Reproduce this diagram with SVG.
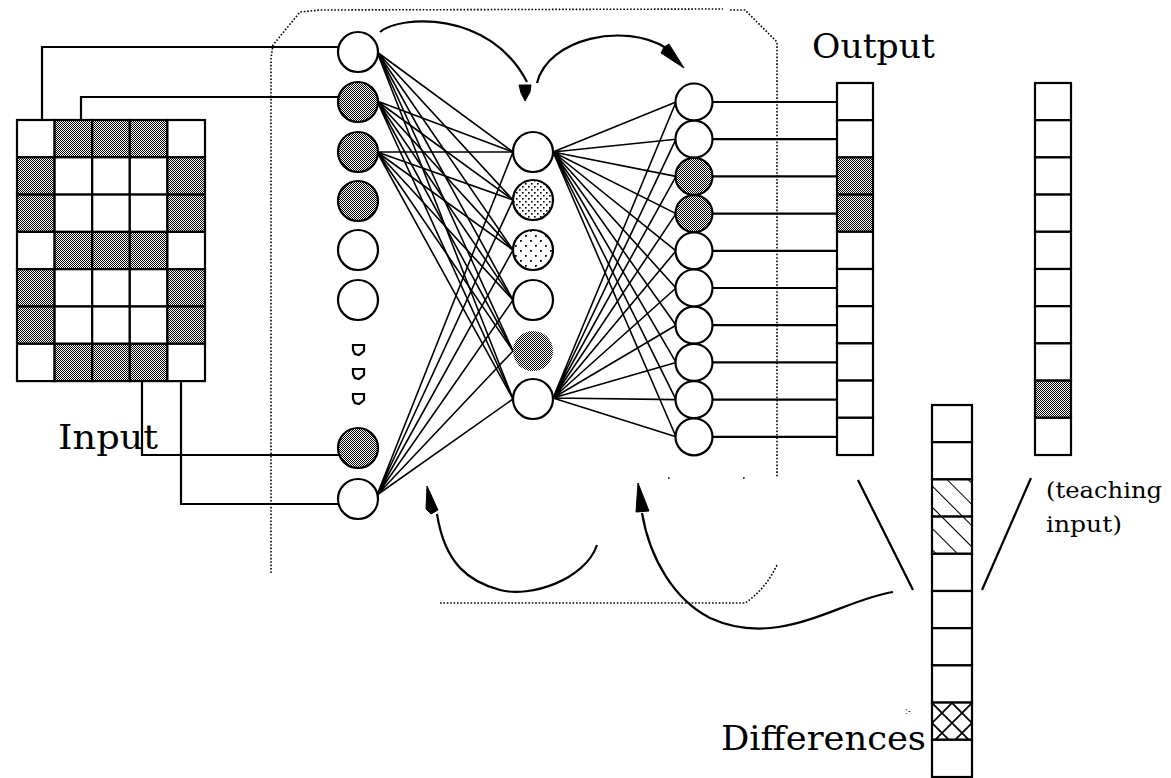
<svg xmlns="http://www.w3.org/2000/svg" width="1171" height="778" viewBox="0 0 1171 778">
  <style>
    .ln { fill: none; stroke: #000; stroke-width: 1.6; }
    .wire { fill: none; stroke: #000; stroke-width: 2.2; }
    .dot { fill: none; stroke: #000; stroke-width: 1.6; stroke-dasharray: 1.6 1.8; }
    .arc { fill: none; stroke: #000; stroke-width: 2.2; }
    .head { fill: #000; stroke: #000; stroke-width: 1; }
    .cell { fill: #fff; stroke: #000; stroke-width: 2.2; }
    .cg { fill: url(#gray); stroke: #000; stroke-width: 2.2; }
    .node { fill: #fff; stroke: #000; stroke-width: 2.2; }
    .ng { fill: url(#gray); stroke: #000; stroke-width: 2.2; }
    .lbl { font-family: "DejaVu Serif", "Liberation Serif", serif; font-size: 33px; fill: #000; }
    .sm { font-family: "DejaVu Serif", "Liberation Serif", serif; font-size: 22px; fill: #000; }
  </style>
  <defs>
    <pattern id="gray" width="2" height="2" patternUnits="userSpaceOnUse">
      <rect width="2" height="2" fill="#fff"/>
      <rect width="1" height="1" fill="#000"/>
      <rect x="1" y="1" width="1" height="1" fill="#000"/>
    </pattern>
    <pattern id="dotsDense" width="6" height="6" patternUnits="userSpaceOnUse">
      <rect width="6" height="6" fill="#fff"/>
      <rect width="1.6" height="1.6" fill="#000"/>
      <rect x="3" y="3" width="1.6" height="1.6" fill="#000"/>
    </pattern>
    <pattern id="dotsSparse" width="10" height="10" patternUnits="userSpaceOnUse">
      <rect width="10" height="10" fill="#fff"/>
      <rect width="1.8" height="1.8" fill="#000"/>
      <rect x="5" y="5" width="1.8" height="1.8" fill="#000"/>
    </pattern>
    <pattern id="hatch" width="15" height="15" patternUnits="userSpaceOnUse" patternTransform="rotate(-45)">
      <rect width="15" height="15" fill="#fff"/>
      <line x1="0" y1="0" x2="0" y2="15" stroke="#000" stroke-width="2"/>
    </pattern>
    <pattern id="cross" width="20" height="20" patternUnits="userSpaceOnUse" x="932" y="703">
      <rect width="20" height="20" fill="#fff"/>
      <path d="M0,0 L20,20 M20,0 L0,20" stroke="#000" stroke-width="1.8"/>
    </pattern>
  </defs>

  <rect width="1171" height="778" fill="#fff"/>

  <!-- dotted frame around the network -->
  <g id="frame">
    <path class="dot" d="M271,573 L271,58 L273,45 L300,12 L320,10 L723,9"/>
    <path class="dot" d="M730,10 L745,10 L777,42 L777,477"/>
    <path class="dot" d="M440,603 L745,603 Q765,590 777,565"/>
    <path class="dot" d="M668,478 h3 M743,478 h3"/>
  </g>

  <!-- input pattern: 5 x 7 grid showing an "8" -->
  <g id="input-grid">
    <rect class="cell" x="17" y="120" width="37.6" height="37.3"/>
    <rect class="cg" x="54.6" y="120" width="37.6" height="37.3"/>
    <rect class="cg" x="92.2" y="120" width="37.6" height="37.3"/>
    <rect class="cg" x="129.8" y="120" width="37.6" height="37.3"/>
    <rect class="cell" x="167.4" y="120" width="37.6" height="37.3"/>

    <rect class="cg" x="17" y="157.3" width="37.6" height="37.3"/>
    <rect class="cell" x="54.6" y="157.3" width="37.6" height="37.3"/>
    <rect class="cell" x="92.2" y="157.3" width="37.6" height="37.3"/>
    <rect class="cell" x="129.8" y="157.3" width="37.6" height="37.3"/>
    <rect class="cg" x="167.4" y="157.3" width="37.6" height="37.3"/>

    <rect class="cg" x="17" y="194.6" width="37.6" height="37.3"/>
    <rect class="cell" x="54.6" y="194.6" width="37.6" height="37.3"/>
    <rect class="cell" x="92.2" y="194.6" width="37.6" height="37.3"/>
    <rect class="cell" x="129.8" y="194.6" width="37.6" height="37.3"/>
    <rect class="cg" x="167.4" y="194.6" width="37.6" height="37.3"/>

    <rect class="cell" x="17" y="231.9" width="37.6" height="37.3"/>
    <rect class="cg" x="54.6" y="231.9" width="37.6" height="37.3"/>
    <rect class="cg" x="92.2" y="231.9" width="37.6" height="37.3"/>
    <rect class="cg" x="129.8" y="231.9" width="37.6" height="37.3"/>
    <rect class="cell" x="167.4" y="231.9" width="37.6" height="37.3"/>

    <rect class="cg" x="17" y="269.2" width="37.6" height="37.3"/>
    <rect class="cell" x="54.6" y="269.2" width="37.6" height="37.3"/>
    <rect class="cell" x="92.2" y="269.2" width="37.6" height="37.3"/>
    <rect class="cell" x="129.8" y="269.2" width="37.6" height="37.3"/>
    <rect class="cg" x="167.4" y="269.2" width="37.6" height="37.3"/>

    <rect class="cg" x="17" y="306.5" width="37.6" height="37.3"/>
    <rect class="cell" x="54.6" y="306.5" width="37.6" height="37.3"/>
    <rect class="cell" x="92.2" y="306.5" width="37.6" height="37.3"/>
    <rect class="cell" x="129.8" y="306.5" width="37.6" height="37.3"/>
    <rect class="cg" x="167.4" y="306.5" width="37.6" height="37.3"/>

    <rect class="cell" x="17" y="343.8" width="37.6" height="37.3"/>
    <rect class="cg" x="54.6" y="343.8" width="37.6" height="37.3"/>
    <rect class="cg" x="92.2" y="343.8" width="37.6" height="37.3"/>
    <rect class="cg" x="129.8" y="343.8" width="37.6" height="37.3"/>
    <rect class="cell" x="167.4" y="343.8" width="37.6" height="37.3"/>
  </g>

  <g id="connectors">
    <!-- grid cells wired to input units -->
    <path class="wire" d="M42,120 V47 H339"/>
    <path class="wire" d="M81,120 V97 H339"/>
    <path class="wire" d="M142,381 V455 H339"/>
    <path class="wire" d="M181,381 V504 H339"/>

    <!-- input layer to hidden layer -->
    <path class="ln" d="M377,52 L513,152 M377,52 L513,200 M377,52 L513,250 M377,52 L513,300 M377,52 L513,351 M377,52 L513,399"/>
    <path class="ln" d="M377,101 L513,152 M377,101 L513,200 M377,101 L513,250 M377,101 L513,300 M377,101 L513,351 M377,101 L513,399"/>
    <path class="ln" d="M377,152 L513,152 M377,152 L513,200 M377,152 L513,250 M377,152 L513,300 M377,152 L513,351 M377,152 L513,399"/>
    <path class="ln" d="M377,495 L513,152 M377,495 L513,200 M377,495 L513,250 M377,495 L513,300 M377,495 L513,351 M377,495 L513,399"/>

    <!-- hidden layer to output layer -->
    <path class="ln" d="M553,152 L676,102 M553,152 L676,139.2 M553,152 L676,176.4 M553,152 L676,213.6 M553,152 L676,250.8 M553,152 L676,288 M553,152 L676,325.2 M553,152 L676,362.4 M553,152 L676,399.6 M553,152 L676,436.8"/>
    <path class="ln" d="M553,398 L676,102 M553,398 L676,139.2 M553,398 L676,176.4 M553,398 L676,213.6 M553,398 L676,250.8 M553,398 L676,288 M553,398 L676,325.2 M553,398 L676,362.4 M553,398 L676,399.6 M553,398 L676,436.8"/>

    <!-- output units to output vector -->
    <path class="wire" d="M712,102 H837 M712,139.2 H837 M712,176.4 H837 M712,213.6 H837 M712,250.8 H837 M712,288 H837 M712,325.2 H837 M712,362.4 H837 M712,399.6 H837 M712,436.8 H837"/>

    <!-- forward propagation arrows -->
    <path class="arc" d="M380,32 C400,15 490,10 527,82"/>
    <polygon class="head" points="519,85 531,85 530,92 525,101 521,93"/>
    <path class="arc" d="M537,83 C548,38 625,22 666,48"/>
    <polygon class="head" points="684,68 661,53 664,47 669,44"/>

    <!-- back propagation arrows -->
    <path class="arc" d="M597,545 C585,580 530,598 500,590 C470,582 445,565 437,514"/>
    <polygon class="head" points="427,486 438,510 431,514 426,509"/>
    <path class="arc" d="M893,592 C840,600 780,650 710,618 C675,600 650,560 642,513"/>
    <polygon class="head" points="638,483 649,511 636,512"/>

    <!-- difference = output vs teaching input -->
    <path class="arc" d="M858,480 L913,590"/>
    <path class="arc" d="M1031,478 L982,590"/>
  </g>

  <!-- input layer -->
  <g id="input-layer">
    <circle id="in-1" class="node" cx="358" cy="52" r="20"/>
    <circle id="in-2" class="ng" cx="358" cy="102" r="20"/>
    <circle id="in-3" class="ng" cx="358" cy="152" r="20"/>
    <circle id="in-4" class="ng" cx="358" cy="201" r="20"/>
    <circle id="in-5" class="node" cx="358" cy="250" r="20"/>
    <circle id="in-6" class="node" cx="358" cy="300" r="20"/>
    <path id="in-more-1" class="node" stroke-width="1.6" d="M353,345 H364 V351 L359,355 L355,354 L353,350 Z"/>
    <path id="in-more-2" class="node" stroke-width="1.6" d="M353,369 H364 V375 L359,379 L355,378 L353,374 Z"/>
    <path id="in-more-3" class="node" stroke-width="1.6" d="M353,394 H364 V400 L359,404 L355,403 L353,399 Z"/>
    <circle id="in-7" class="ng" cx="358" cy="448" r="20"/>
    <circle id="in-8" class="node" cx="358" cy="499" r="20"/>
  </g>

  <!-- hidden layer -->
  <g id="hidden-layer">
    <circle id="hid-1" class="node" cx="533" cy="152" r="20"/>
    <circle id="hid-2" cx="533" cy="200" r="20" fill="url(#dotsDense)" stroke="#000" stroke-width="2.2"/>
    <circle id="hid-3" cx="533" cy="250" r="20" fill="url(#dotsSparse)" stroke="#000" stroke-width="2.2"/>
    <circle id="hid-4" class="node" cx="533" cy="300" r="20"/>
    <circle id="hid-5" cx="533" cy="351" r="20" fill="url(#gray)" stroke="none"/>
    <circle id="hid-6" class="node" cx="533" cy="399" r="20"/>
  </g>

  <!-- output layer -->
  <g id="output-layer">
    <circle id="out-1" class="node" cx="694" cy="102" r="18.5"/>
    <circle id="out-2" class="node" cx="694" cy="139.2" r="18.5"/>
    <circle id="out-3" class="ng" cx="694" cy="176.4" r="18.5"/>
    <circle id="out-4" class="ng" cx="694" cy="213.6" r="18.5"/>
    <circle id="out-5" class="node" cx="694" cy="250.8" r="18.5"/>
    <circle id="out-6" class="node" cx="694" cy="288" r="18.5"/>
    <circle id="out-7" class="node" cx="694" cy="325.2" r="18.5"/>
    <circle id="out-8" class="node" cx="694" cy="362.4" r="18.5"/>
    <circle id="out-9" class="node" cx="694" cy="399.6" r="18.5"/>
    <circle id="out-10" class="node" cx="694" cy="436.8" r="18.5"/>
  </g>

  <!-- output vector -->
  <g id="output-vector">
    <rect class="cell" x="837" y="83" width="36" height="37.2"/>
    <rect class="cell" x="837" y="120.2" width="36" height="37.2"/>
    <rect class="cg" x="837" y="157.4" width="36" height="37.2"/>
    <rect class="cg" x="837" y="194.6" width="36" height="37.2"/>
    <rect class="cell" x="837" y="231.8" width="36" height="37.2"/>
    <rect class="cell" x="837" y="269" width="36" height="37.2"/>
    <rect class="cell" x="837" y="306.2" width="36" height="37.2"/>
    <rect class="cell" x="837" y="343.4" width="36" height="37.2"/>
    <rect class="cell" x="837" y="380.6" width="36" height="37.2"/>
    <rect class="cell" x="837" y="417.8" width="36" height="37.2"/>
  </g>

  <!-- teaching input vector -->
  <g id="teaching-vector">
    <rect class="cell" x="1035" y="83" width="36" height="37.2"/>
    <rect class="cell" x="1035" y="120.2" width="36" height="37.2"/>
    <rect class="cell" x="1035" y="157.4" width="36" height="37.2"/>
    <rect class="cell" x="1035" y="194.6" width="36" height="37.2"/>
    <rect class="cell" x="1035" y="231.8" width="36" height="37.2"/>
    <rect class="cell" x="1035" y="269" width="36" height="37.2"/>
    <rect class="cell" x="1035" y="306.2" width="36" height="37.2"/>
    <rect class="cell" x="1035" y="343.4" width="36" height="37.2"/>
    <rect class="cg" x="1035" y="380.6" width="36" height="37.2"/>
    <rect class="cell" x="1035" y="417.8" width="36" height="37.2"/>
  </g>

  <!-- difference vector -->
  <g id="difference-vector">
    <rect class="cell" x="932" y="405" width="40" height="37.2"/>
    <rect class="cell" x="932" y="442.2" width="40" height="37.2"/>
    <rect x="932" y="479.4" width="40" height="37.2" fill="url(#hatch)" stroke="#000" stroke-width="2.2"/>
    <rect x="932" y="516.6" width="40" height="37.2" fill="url(#hatch)" stroke="#000" stroke-width="2.2"/>
    <rect class="cell" x="932" y="553.8" width="40" height="37.2"/>
    <rect class="cell" x="932" y="591" width="40" height="37.2"/>
    <rect class="cell" x="932" y="628.2" width="40" height="37.2"/>
    <rect class="cell" x="932" y="665.4" width="40" height="37.2"/>
    <rect x="932" y="702.6" width="40" height="37.2" fill="url(#cross)" stroke="#000" stroke-width="2.2"/>
    <rect class="cell" x="932" y="739.8" width="40" height="37.2"/>
  </g>

  <!-- labels -->
  <g id="labels">
    <text class="lbl" x="58" y="449" textLength="100" lengthAdjust="spacingAndGlyphs">Input</text>
    <text class="lbl" x="812" y="58" textLength="123" lengthAdjust="spacingAndGlyphs">Output</text>
    <text class="lbl" x="721" y="750" textLength="205" lengthAdjust="spacingAndGlyphs">Differences</text>
    <text class="sm" x="1046" y="498" textLength="116" lengthAdjust="spacingAndGlyphs">(teaching</text>
    <text class="sm" x="1046" y="532" textLength="76" lengthAdjust="spacingAndGlyphs">input)</text>
    <text x="905" y="714" font-family="DejaVu Sans, sans-serif" font-size="8">:-</text>
  </g>
</svg>
